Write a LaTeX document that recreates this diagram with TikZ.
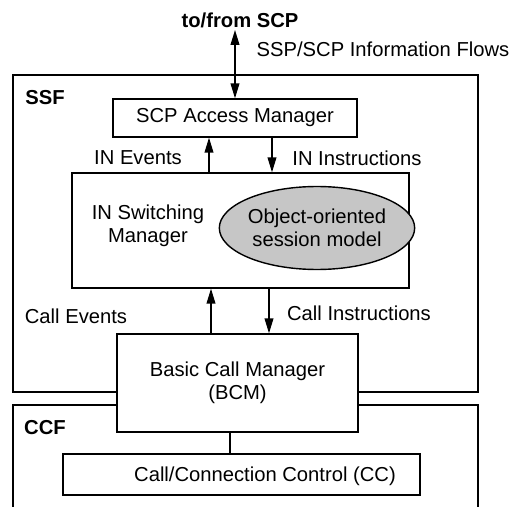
\documentclass[tikz,border=0pt]{standalone}
\usepackage{fontspec}
\setmainfont{Liberation Sans}
\usepackage{tikz}
\usetikzlibrary{arrows.meta, positioning, shapes.geometric, calc}

\begin{document}
\begin{tikzpicture}[x=0.02cm, y=-0.02cm,
    box/.style={draw, line width=0.8pt, fill=white},
    frame/.style={draw, line width=0.8pt},
    lbl/.style={font=\fontsize{11.5}{13.2}\selectfont, align=center, inner sep=0pt},
    hdr/.style={font=\fontsize{11.5}{13.2}\selectfont\bfseries, inner sep=0pt},
    arr/.style={line width=0.8pt, -{Triangle[length=8.5pt, width=5pt]}},
    darr/.style={line width=0.8pt, {Triangle[length=8.5pt, width=5pt]}-{Triangle[length=8.5pt, width=5pt]}}]
        \useasboundingbox (0,0) rectangle (515,507);
        \clip (0,0) rectangle (515,507);

        % cornici SSF e CCF
        \node[frame, minimum width=9.30cm, minimum height=6.34cm] (ssf) at (245.5,233.5) {};
        \node[frame, minimum width=9.30cm, minimum height=2.30cm] (ccf) at (245.5,462.5) {};
        \node[hdr] (ssflbl) at (45,98) {SSF};
        \node[hdr] (ccflbl) at (45,428) {CCF};

        % verso SCP
        \node[hdr] (top) at (240,20) {to/from SCP};
        \node[lbl] (flows) at (383,49) {SSP/SCP Information Flows};

        % blocchi
        \node[box, minimum width=4.88cm, minimum height=0.76cm, lbl] (scp) at (235,118) {SCP Access Manager};
        \node[box, minimum width=6.74cm, minimum height=2.30cm] (ism) at (240.5,230.5) {};
        \node[lbl] (ismlbl) at (148,226) {IN Switching\\Manager};
        \node[draw, ellipse, line width=0.8pt, fill=gray!45, minimum width=3.26cm, minimum height=1.66cm, lbl] (osm) at (317,228) {Object-oriented\\session model};
        \node[box, minimum width=4.82cm, minimum height=1.96cm, lbl] (bcm) at (237.5,383) {Basic Call Manager\\(BCM)};
        \node[box, minimum width=7.14cm, minimum height=0.82cm] (cc) at (241.5,474.5) {};
        \node[lbl] (cclbl) at (265,476) {Call/Connection Control (CC)};

        % punti di aggancio delle frecce
        \coordinate (sv) at (235,30);
        \coordinate (a1) at (209,0);
        \coordinate (a2) at (272,0);
        \coordinate (b1) at (211,0);
        \coordinate (b2) at (269,0);
        \coordinate (c1) at (230,0);

        % frecce
        \draw[darr] (sv) -- (scp.north -| sv);
        \draw[arr] (ism.north -| a1) -- (scp.south -| a1); % IN events
        \draw[arr] (scp.south -| a2) -- (ism.north -| a2); % IN instructions
        \draw[arr] (bcm.north -| b1) -- (ism.south -| b1); % call events
        \draw[arr] (ism.south -| b2) -- (bcm.north -| b2); % call instructions
        \draw[line width=0.8pt] (bcm.south -| c1) -- (cc.north -| c1);

        \node[lbl] (inev) at (138,158) {IN Events};
        \node[lbl] (inins) at (357,158) {IN Instructions};
        \node[lbl] (callev) at (76,316) {Call Events};
        \node[lbl] (callins) at (359,313) {Call Instructions};
    \end{tikzpicture}
\end{document}
